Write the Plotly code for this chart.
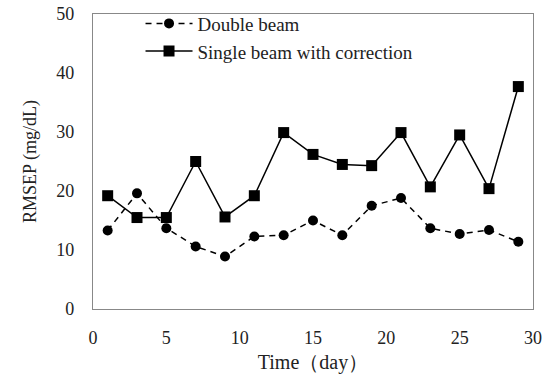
import plotly.graph_objects as go

days = [1, 3, 5, 7, 9, 11, 13, 15, 17, 19, 21, 23, 25, 27, 29]
double_beam = [13.3, 19.6, 13.7, 10.6, 8.9, 12.3, 12.5, 15.0, 12.5, 17.5, 18.8, 13.7, 12.7, 13.4, 11.4]
single_beam = [19.2, 15.5, 15.5, 25.0, 15.6, 19.2, 29.9, 26.2, 24.5, 24.3, 29.9, 20.7, 29.5, 20.4, 37.7]

fig = go.Figure()
fig.add_trace(go.Scatter(
    x=days, y=double_beam, mode="lines+markers", name="Double beam",
    line=dict(color="black", width=1.5, dash="6px,5px"),
    marker=dict(symbol="circle", size=10, color="black"),
))
fig.add_trace(go.Scatter(
    x=days, y=single_beam, mode="lines+markers", name="Single beam with correction",
    line=dict(color="black", width=1.5),
    marker=dict(symbol="square", size=11, color="black"),
))

fam = "Liberation Serif, Times New Roman, serif"
fig.update_layout(
    width=550, height=377,
    margin=dict(l=93, r=17, t=14, b=68, autoexpand=False),
    paper_bgcolor="white", plot_bgcolor="white",
    font=dict(family=fam, size=18, color="#222"),
    showlegend=True,
    legend=dict(x=0.108, y=1.032, xanchor="left", yanchor="top",
                bgcolor="rgba(0,0,0,0)", font=dict(family=fam, size=19, color="#222"),
                tracegroupgap=0, itemwidth=47),
)
fig.update_xaxes(
    range=[0, 30], tickvals=[0, 5, 10, 15, 20, 25, 30],
    showgrid=False, zeroline=False, showline=True, mirror=True,
    linecolor="#888", linewidth=1.2, ticks="", ticklabelstandoff=12,
    tickfont=dict(family=fam, size=18), automargin=False,
    title=dict(text="Time（day）", standoff=8, font=dict(family=fam, size=20, color="#222")),
)
fig.update_yaxes(
    range=[0, 50], tickvals=[0, 10, 20, 30, 40, 50],
    showgrid=False, zeroline=False, showline=True, mirror=True,
    linecolor="#888", linewidth=1.2, ticks="", ticklabelstandoff=14,
    tickfont=dict(family=fam, size=18), automargin=False,
    title=dict(text="RMSEP (mg/dL)", standoff=14, font=dict(family=fam, size=18, color="#222")),
)
fig.write_html("out.html")
